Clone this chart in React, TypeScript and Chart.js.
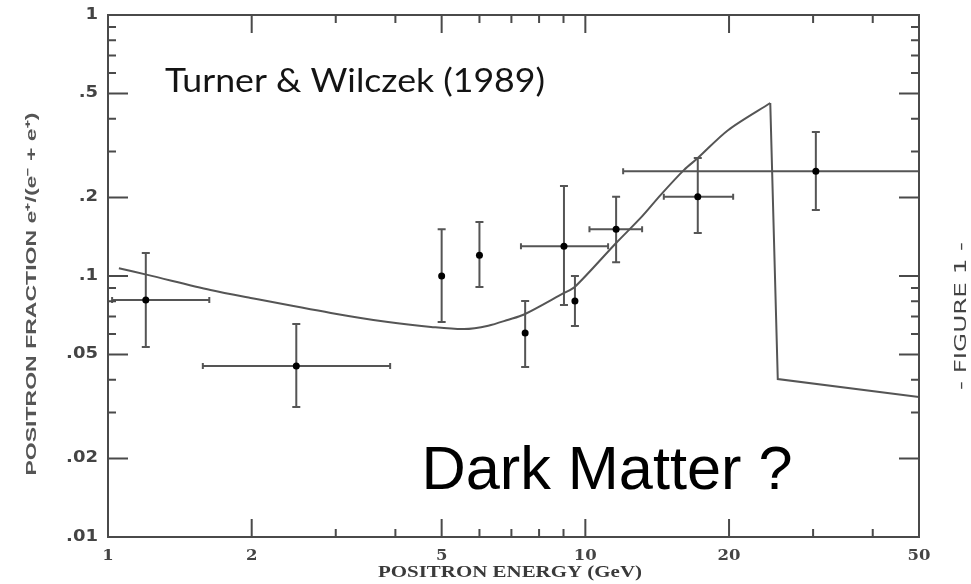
import { useEffect, useRef } from "react";
import { Chart, registerables } from "chart.js";

Chart.register(...registerables);

// Measured positron fraction with error bars (energy in GeV)
const energy = [1.2, 2.48, 5.0, 6.0, 7.48, 9.02, 9.51, 11.6, 17.2, 30.4];
const fraction = [0.081, 0.0452, 0.1, 0.12, 0.0605, 0.13, 0.0802, 0.151, 0.201, 0.252];
const energyLow = [1.02, 1.58, null, null, null, 7.33, null, 10.2, 14.6, 12.0];
const energyHigh = [1.63, 3.9, null, null, null, 11.16, null, 13.15, 20.4, 50];
const fractionLow = [0.0535, 0.0315, 0.0667, 0.0907, 0.0448, 0.0774, 0.0643, 0.113, 0.146, 0.179];
const fractionHigh = [0.1225, 0.0655, 0.151, 0.161, 0.0802, 0.221, 0.1, 0.201, 0.283, 0.356];

// Model curve: smooth part up to the cut-off, then the drop and tail
const modelEnergy = [1.054, 1.21, 1.64, 1.99, 2.93, 3.86, 4.75, 5.57, 6.26, 6.9, 7.44, 9.02, 9.5, 11.6, 13.1, 14.4, 16.1, 17.2, 19.9, 24.4];
const modelFraction = [0.107, 0.101, 0.0884, 0.0824, 0.0722, 0.0666, 0.0638, 0.0626, 0.0645, 0.068, 0.0712, 0.0861, 0.0907, 0.1338, 0.168, 0.205, 0.255, 0.283, 0.362, 0.46];
const tailEnergy = [24.4, 25.3, 50];
const tailFraction = [0.46, 0.0403, 0.0344];

// Axis tick labels
const xTickValues = [1, 2, 5, 10, 20, 50];
const xTickLabels = ["1", "2", "5", "10", "20", "50"];
const yTickValues = [1, 0.5, 0.2, 0.1, 0.05, 0.02, 0.01];
const yTickLabels = ["1", ".5", ".2", ".1", ".05", ".02", ".01"];

const INK = "#4a4a4a";

function fitText(
  ctx: CanvasRenderingContext2D,
  text: string,
  cx: number,
  cy: number,
  width: number,
  font: string,
  color: string,
  angle = 0
) {
  ctx.save();
  ctx.font = font;
  const w = ctx.measureText(text).width;
  ctx.translate(cx, cy);
  ctx.rotate(angle);
  ctx.scale(width / w, 1);
  ctx.textAlign = "center";
  ctx.textBaseline = "alphabetic";
  ctx.fillStyle = color;
  ctx.fillText(text, 0, 0);
  ctx.restore();
}

function wideText(
  ctx: CanvasRenderingContext2D,
  text: string,
  x: number,
  y: number,
  stretch: number,
  align: CanvasTextAlign
) {
  ctx.save();
  ctx.translate(x, y);
  ctx.scale(stretch, 1);
  ctx.textAlign = align;
  ctx.fillText(text, 0, 0);
  ctx.restore();
}

const frameAndErrors = {
  id: "frameAndErrors",
  beforeDatasetsDraw(chart: any) {
    const { ctx, chartArea: a } = chart;
    const xs = chart.scales.x;
    const ys = chart.scales.y;
    ctx.save();
    ctx.beginPath();
    ctx.rect(a.left, a.top - 2, a.right - a.left, a.bottom - a.top + 4);
    ctx.clip();
    ctx.strokeStyle = "#555";
    ctx.lineWidth = 2;
    const cap = 4;
    for (let i = 0; i < energy.length; i++) {
      const px = xs.getPixelForValue(energy[i]);
      const py = ys.getPixelForValue(fraction[i]);
      const yTop = ys.getPixelForValue(fractionHigh[i]);
      const yBot = ys.getPixelForValue(fractionLow[i]);
      ctx.beginPath();
      ctx.moveTo(px, yTop);
      ctx.lineTo(px, yBot);
      ctx.moveTo(px - cap, yTop);
      ctx.lineTo(px + cap, yTop);
      ctx.moveTo(px - cap, yBot);
      ctx.lineTo(px + cap, yBot);
      const lo = energyLow[i];
      const hi = energyHigh[i];
      if (lo !== null && hi !== null) {
        const xL = xs.getPixelForValue(lo);
        const xR = xs.getPixelForValue(hi);
        ctx.moveTo(xL, py);
        ctx.lineTo(xR, py);
        ctx.moveTo(xL, py - 3);
        ctx.lineTo(xL, py + 3);
        ctx.moveTo(xR, py - 3);
        ctx.lineTo(xR, py + 3);
      }
      ctx.stroke();
    }
    ctx.restore();
  },
  afterDraw(chart: any) {
    const { ctx, chartArea: a } = chart;
    const xs = chart.scales.x;
    const ys = chart.scales.y;
    ctx.save();
    ctx.strokeStyle = INK;
    ctx.lineWidth = 2;
    ctx.strokeRect(a.left, a.top, a.right - a.left, a.bottom - a.top);

    // inward ticks on all four sides
    ctx.beginPath();
    for (const d of [1, 10]) {
      for (let m = 1; m <= 9; m++) {
        const v = m * d;
        if (v <= 1 || v >= 50) continue;
        const major = xTickValues.includes(v);
        const len = major ? 18 : 8;
        const px = xs.getPixelForValue(v);
        ctx.moveTo(px, a.bottom);
        ctx.lineTo(px, a.bottom - len);
        ctx.moveTo(px, a.top);
        ctx.lineTo(px, a.top + len);
      }
    }
    for (const d of [0.01, 0.1]) {
      for (let m = 1; m <= 9; m++) {
        const v = +(m * d).toFixed(4);
        if (v <= 0.01) continue;
        const major = yTickValues.includes(v);
        const len = major ? 20 : 8;
        const py = ys.getPixelForValue(v);
        ctx.moveTo(a.left, py);
        ctx.lineTo(a.left + len, py);
        ctx.moveTo(a.right, py);
        ctx.lineTo(a.right - len, py);
      }
    }
    ctx.stroke();

    // tick labels
    ctx.fillStyle = "#444";
    ctx.font = "bold 15px 'DejaVu Serif'";
    ctx.textBaseline = "middle";
    xTickValues.forEach((v, i) => {
      wideText(ctx, xTickLabels[i], xs.getPixelForValue(v), 556, 1.1, "center");
    });
    ctx.font = "bold 15px 'DejaVu Sans'";
    yTickValues.forEach((v, i) => {
      wideText(ctx, yTickLabels[i], 98, ys.getPixelForValue(v), 1.2, "right");
    });
    ctx.restore();

    // axis titles and annotations
    fitText(ctx, "POSITRON ENERGY (GeV)", 510, 577, 264, "bold 16px 'Liberation Serif'", "#3a3a3a");
    fitText(ctx, "POSITRON FRACTION e\u207A/(e\u207B + e\u207A)", 36, 294, 363, "bold 14px 'Liberation Sans'", "#555", -Math.PI / 2);
    fitText(ctx, "Turner & Wilczek (1989)", 355, 92, 380, "33px Lato", "#141414");
    fitText(ctx, "Dark Matter ?", 607, 489, 371, "62px 'Liberation Sans'", "#000");
    fitText(ctx, "- FIGURE 1 -", 966, 316, 148, "16px 'DejaVu Sans'", "#444", -Math.PI / 2);
  },
};

export default function App() {
  const ref = useRef<HTMLCanvasElement | null>(null);

  useEffect(() => {
    if (!ref.current) return;
    const chart = new Chart(ref.current, {
      type: "scatter",
      data: {
        datasets: [
          {
            data: modelEnergy.map((x, i) => ({ x, y: modelFraction[i] })),
            showLine: true,
            borderColor: "#555",
            borderWidth: 2,
            pointRadius: 0,
            tension: 0.3,
          },
          {
            data: tailEnergy.map((x, i) => ({ x, y: tailFraction[i] })),
            showLine: true,
            borderColor: "#555",
            borderWidth: 2,
            pointRadius: 0,
            tension: 0,
          },
          {
            data: energy.map((x, i) => ({ x, y: fraction[i] })),
            showLine: false,
            pointRadius: 3.5,
            pointBackgroundColor: "#000",
            pointBorderColor: "#000",
            pointBorderWidth: 0,
          },
        ],
      },
      options: {
        responsive: false,
        animation: false,
        layout: { padding: { left: 108, right: 52, top: 15, bottom: 47 } },
        plugins: { legend: { display: false }, tooltip: { enabled: false } },
        scales: {
          x: { type: "logarithmic", min: 1, max: 50, display: false },
          y: { type: "logarithmic", min: 0.01, max: 1, display: false },
        },
      },
      plugins: [frameAndErrors],
    });
    return () => chart.destroy();
  }, []);

  return (
    <div style={{ position: "fixed", left: 0, top: 0, width: 971, height: 584, background: "#fff" }}>
      <canvas ref={ref} width={971} height={584} />
    </div>
  );
}
